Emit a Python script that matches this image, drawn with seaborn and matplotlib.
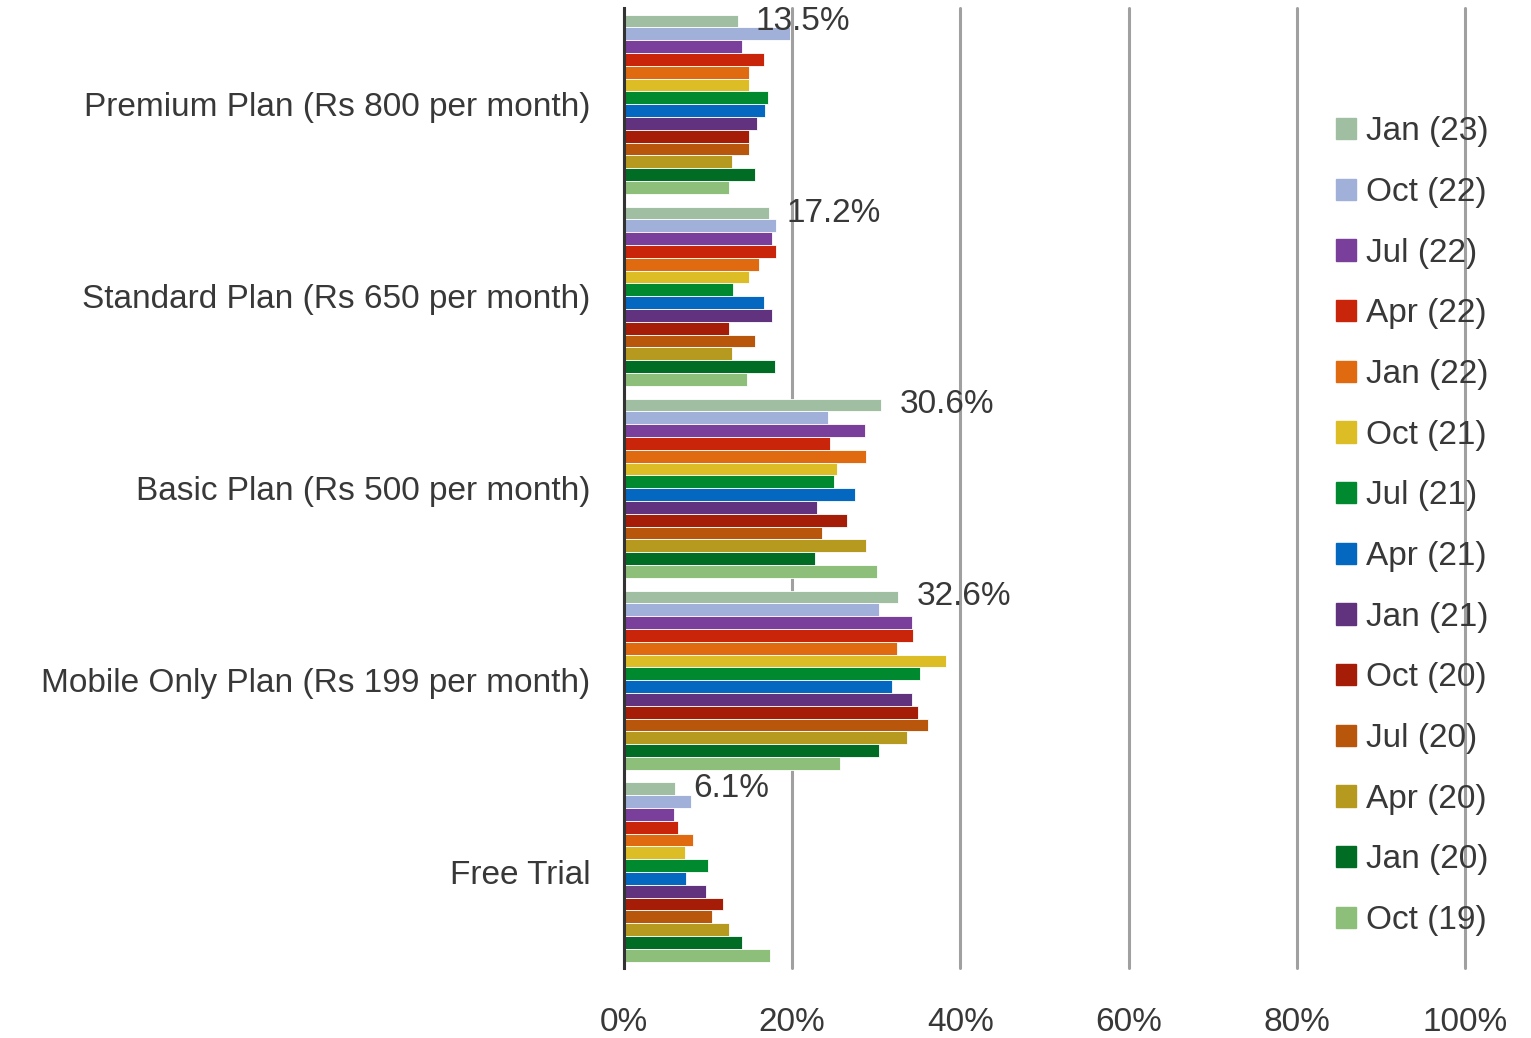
import pandas as pd
import matplotlib.pyplot as plt
import seaborn as sns

# data
plans = ['Premium Plan (Rs 800 per month)', 'Standard Plan (Rs 650 per month)',
         'Basic Plan (Rs 500 per month)', 'Mobile Only Plan (Rs 199 per month)', 'Free Trial']
periods = ['Jan (23)', 'Oct (22)', 'Jul (22)', 'Apr (22)', 'Jan (22)', 'Oct (21)', 'Jul (21)',
           'Apr (21)', 'Jan (21)', 'Oct (20)', 'Jul (20)', 'Apr (20)', 'Jan (20)', 'Oct (19)']
premium = [13.5, 19.7, 14.0, 16.6, 14.8, 14.8, 17.1, 16.8, 15.8, 14.8, 14.8, 12.8, 15.6, 12.5]
standard = [17.2, 18.1, 17.6, 18.1, 16.1, 14.8, 13.0, 16.6, 17.6, 12.5, 15.6, 12.8, 17.9, 14.6]
basic = [30.6, 24.2, 28.6, 24.5, 28.8, 25.3, 25.0, 27.5, 22.9, 26.5, 23.5, 28.8, 22.7, 30.1]
mobile = [32.6, 30.3, 34.2, 34.4, 32.4, 38.3, 35.2, 31.9, 34.2, 34.9, 36.2, 33.7, 30.3, 25.7]
free = [6.1, 8.0, 5.9, 6.4, 8.2, 7.2, 10.0, 7.4, 9.7, 11.8, 10.5, 12.5, 14.0, 17.4]
colors = ['#A0BEA2', '#A0B0D8', '#7A3F9A', '#C8250A', '#DF6A10', '#DDBD25', '#00892E',
          '#0467C0', '#61327E', '#A51D06', '#B8560C', '#B59A1F', '#006C24', '#8DBF7A']

rows = []
for plan, vals in zip(plans, [premium, standard, basic, mobile, free]):
    for per, v in zip(periods, vals):
        rows.append({'plan': plan, 'period': per, 'share': v})
df = pd.DataFrame(rows)

sns.set_theme(style='white')
plt.rcParams['font.family'] = ['Liberation Sans', 'DejaVu Sans']
txt = '#383838'
fs = 24

fig = plt.figure(figsize=(15.31, 10.38), dpi=100)
ax = fig.add_axes([0.4076, 0.0674, 0.5493, 0.9246])

sns.barplot(data=df, y='plan', x='share', hue='period', order=plans, hue_order=periods,
            palette=colors, orient='h', width=14 / 15, gap=0, saturation=1,
            edgecolor='white', linewidth=0.6, legend=False, ax=ax)

# label only the latest survey
ax.bar_label(ax.containers[0], labels=[f'{v:.1f}%' for v in df[df.period == periods[0]].share],
             padding=13, fontsize=fs, color=txt)

ax.set_xlim(0, 100)
ax.set_ylim(4.5, -0.5)
ax.set_xticks([0, 20, 40, 60, 80, 100])
ax.set_xticklabels([f'{t}%' for t in [0, 20, 40, 60, 80, 100]])
ax.xaxis.grid(True, color='#A0A0A0', linewidth=2.2)
for gl in ax.get_xgridlines():
    gl.set_clip_on(False)
ax.set_axisbelow(True)
ax.tick_params(axis='x', length=0, pad=28, labelsize=fs, labelcolor=txt)
ax.tick_params(axis='y', length=0, pad=24, labelsize=fs, labelcolor=txt)
ax.set_xlabel('')
ax.set_ylabel('')
for s in ['top', 'right', 'bottom']:
    ax.spines[s].set_visible(False)
ax.spines['left'].set_color('#333333')
ax.spines['left'].set_linewidth(2.2)

handles = [plt.Rectangle((0, 0), 1, 1, color=c) for c in colors]
fig.legend(handles, periods, loc='center left', bbox_to_anchor=(0.8725, 0.493), frameon=False,
           fontsize=fs, labelcolor=txt, handlelength=0.6, handleheight=0.6,
           handletextpad=0.3, labelspacing=0.89, borderpad=0, borderaxespad=0)

fig.savefig('out.png', dpi=100)
